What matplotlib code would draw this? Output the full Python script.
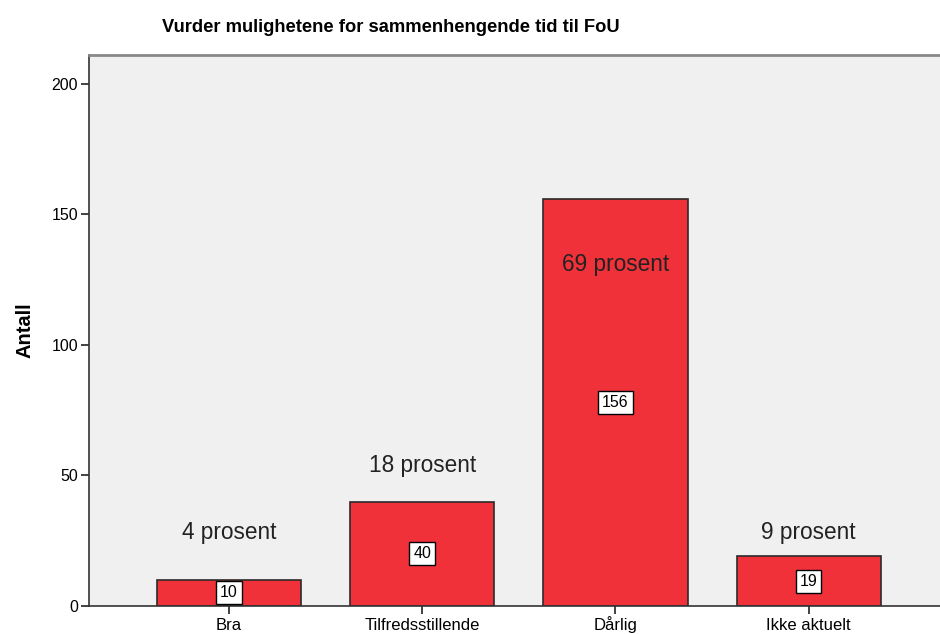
import matplotlib
matplotlib.use("Agg")
import matplotlib.pyplot as plt

categories = ["Bra", "Tilfredsstillende", "Dårlig", "Ikke aktuelt"]
counts = [10, 40, 156, 19]
percent_labels = ["4 prosent", "18 prosent", "69 prosent", "9 prosent"]
yticks = [0, 50, 100, 150, 200]

plt.rcParams['font.family'] = ['Liberation Sans', 'DejaVu Sans']

fig = plt.figure(figsize=(9.4, 6.34), dpi=100)
ax = fig.add_axes([89/940, 28/634, 1 - 89/940, (606-55)/634])
ax.set_facecolor('#F0F0F0')

x = list(range(len(categories)))
ax.bar(x, counts, width=0.746, color='#F0313A', edgecolor='#2b2b2b', linewidth=1.2, zorder=2)

ymax = 211.1
ax.set_ylim(0, ymax)
ax.set_xlim(-0.725, 3.68)

for xi, c, p in zip(x, counts, percent_labels):
    ax.text(xi, c / 2, str(c), ha='center', va='center', fontsize=11.5, zorder=4,
            bbox=dict(boxstyle='square,pad=0.25', facecolor='white', edgecolor='black', linewidth=1))
    if c > 120:
        py = c - 25
    elif c < 25:
        py = 28
    else:
        py = c + 14
    ax.text(xi, py, p, ha='center', va='center', fontsize=16.3, color='#222222', zorder=4)

ax.set_xticks(x)
ax.set_xticklabels(categories, fontsize=12)
for lbl in ax.get_xticklabels():
    lbl.set_va('baseline')
ax.set_yticks(yticks)
ax.set_yticklabels([str(t) for t in yticks], fontsize=11.5)
ax.tick_params(axis='both', length=6, width=1.2, color='#222222', pad=2)
ax.tick_params(axis='x', pad=11)

for side in ['left', 'bottom']:
    ax.spines[side].set_color('#333333')
    ax.spines[side].set_linewidth(1.2)
ax.spines['top'].set_color('#888888')
ax.spines['top'].set_linewidth(2)
ax.spines['right'].set_visible(False)

ax.set_ylabel('Antall', fontsize=14.5, fontweight='bold', labelpad=12)
fig.text(391/940, 1 - 28/634, 'Vurder mulighetene for sammenhengende tid til FoU',
         ha='center', va='center', fontsize=13.2, fontweight='bold')

fig.savefig('out.png', dpi=100)
